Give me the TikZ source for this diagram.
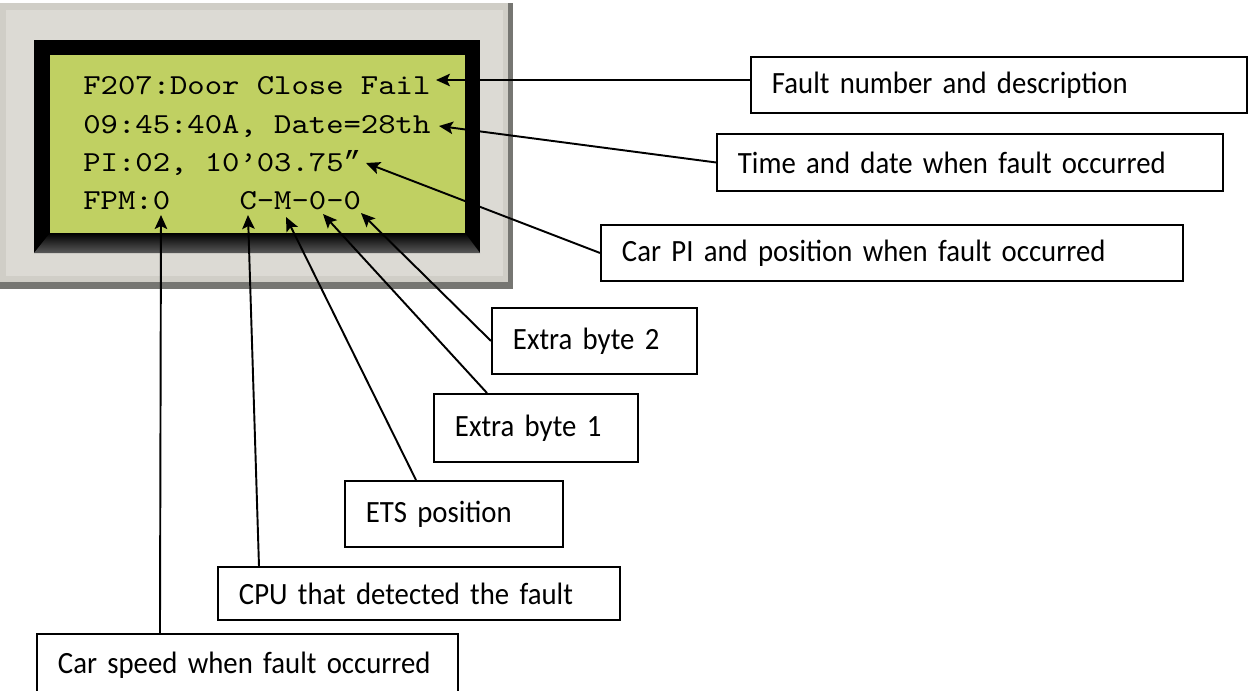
\documentclass[tikz,border=0pt]{standalone}
\usepackage{fontspec}
\setmainfont{Carlito}[FakeStretch=0.93]
\newfontfamily\lcdfont{lmmono10-regular.otf}[FakeStretch=1.14]
\newfontfamily\quotefont{Liberation Mono}
\usepackage{tikz}
\usetikzlibrary{arrows.meta}
\usepackage{xcolor}
\definecolor{lcdgreen}{RGB}{192, 208, 98}
\definecolor{bezel}{RGB}{208, 206, 199}
\definecolor{bezellight}{RGB}{220, 218, 212}
\definecolor{bezeldark}{RGB}{118, 118, 114}
\tikzstyle{note} = [rectangle, draw=black, line width=1.1pt, anchor=north west, align=left, inner xsep=0.42cm, inner ysep=0pt, font=\fontsize{17.6}{21}\selectfont]
\tikzstyle{lcd} = [anchor=base west, inner sep=0pt, font=\lcdfont\fontsize{16.5}{20}\selectfont]
\tikzstyle{arrow} = [line width=1.1pt,->,>={Stealth[length=2.8mm, width=2.5mm, inset=0.6mm]}]

\begin{document}
\begin{tikzpicture}[x=0.02cm, y=-0.02cm]
    \useasboundingbox (0,0) rectangle (1248,690);
    \clip (0,0) rectangle (1248,690);

    % display bezel and screen
    \fill [bezeldark] (0,3) rectangle (513,289);
    \fill [bezel] (0,3) rectangle (508,282);
    \fill [bezellight] (6,10) rectangle (503,276);
    \fill [black] (34,40) rectangle (480,253);
    \shade [top color=black, bottom color=black!65!white] (50,233) -- (465,233) -- (480,253) -- (34,253) -- cycle;
    \fill [lcdgreen] (50,55) rectangle (465,233);

    \node (l1) [lcd] at (83,94) {F207:Door Close Fail};
    \node (l2) [lcd] at (83,133) {09:45:40A, Date=28th};
    \node (l3) [lcd] at (83,171) {PI:02, 10’03.75{\quotefont”}};
    \node (l4) [lcd] at (83,209) {FPM:0\phantom{0000}C-M-0-0};

    % arrow tips on the screen
    \coordinate (fail) at (436,80);
    \coordinate (date) at (439,126);
    \coordinate (posn) at (366,163);
    \coordinate (fpm) at (161,215);
    \coordinate (cpu) at (248,215);
    \coordinate (ets) at (286,217);
    \coordinate (xone) at (323,214);
    \coordinate (xtwo) at (361,213);

    % callouts
    \node (fnum) [note, minimum height=1.12cm, text width=9.08cm] at (750,56) {Fault number and description};
    \node (tdate) [note, minimum height=1.14cm, text width=9.28cm] at (716,133) {Time and date when fault occurred};
    \node (cpos) [note, minimum height=1.12cm, text width=10.8cm] at (600,224) {Car PI and position when fault occurred};
    \node (xb2) [note, minimum height=1.32cm, text width=3.26cm] at (491,307) {Extra byte 2};
    \node (xb1) [note, minimum height=1.36cm, text width=3.24cm] at (433,393) {Extra byte 1};
    \node (etsp) [note, minimum height=1.32cm, text width=3.52cm] at (344,480) {ETS position};
    \node (cpud) [note, minimum height=1.06cm, text width=7.2cm] at (217,566) {CPU that detected the fault};
    \node (spd) [note, minimum height=1.24cm, text width=7.58cm] at (36,633) {Car speed when fault occurred};

    \draw [arrow] (fnum.west |- fail) -- (fail);
    \draw [arrow] (tdate.west) -- (date);
    \draw [arrow] (cpos.west) -- (posn);
    \draw [arrow] (xb2.west) -- (xtwo);
    \draw [arrow] ([xshift=1.08cm]xb1.north west) -- (xone);
    \draw [arrow] ([xshift=1.44cm]etsp.north west) -- (ets);
    \draw [arrow] ([xshift=0.84cm]cpud.north west) -- (cpu);
    \draw [arrow] ([xshift=2.48cm]spd.north west) -- (fpm);
\end{tikzpicture}
\end{document}
